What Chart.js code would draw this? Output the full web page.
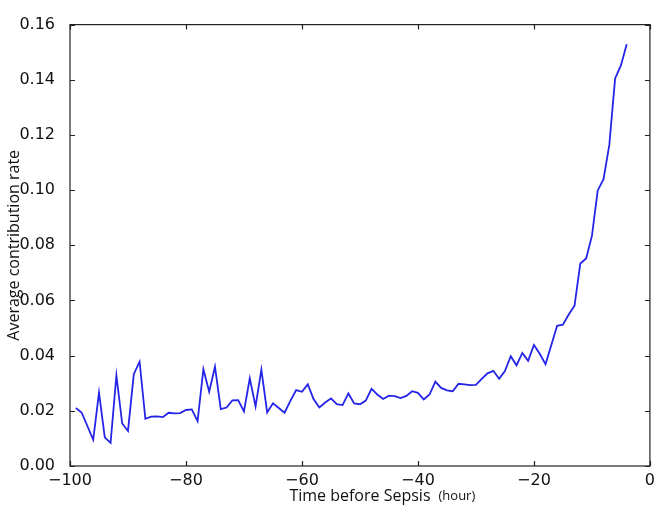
<!DOCTYPE html>
<html>
<head>
<meta charset="utf-8">
<script src="https://cdn.jsdelivr.net/npm/chart.js@4"></script>
<style>
	body { margin: 0; background: #fff; }
</style>
</head>
<body>
<canvas id="cntx_rate" width="660" height="514"></canvas>
<script>
const hours = [
	-99, -98, -97, -96, -95, -94, -93, -92, -91, -90,
	-89, -88, -87, -86, -85, -84, -83, -82, -81, -80,
	-79, -78, -77, -76, -75, -74, -73, -72, -71, -70,
	-69, -68, -67, -66, -65, -64, -63, -62, -61, -60,
	-59, -58, -57, -56, -55, -54, -53, -52, -51, -50,
	-49, -48, -47, -46, -45, -44, -43, -42, -41, -40,
	-39, -38, -37, -36, -35, -34, -33, -32, -31, -30,
	-29, -28, -27, -26, -25, -24, -23, -22, -21, -20,
	-19, -18, -17, -16, -15, -14, -13, -12, -11, -10,
	-9, -8, -7, -6, -5, -4,
];
const contribution_rate = [
	0.0210, 0.0194, 0.0145, 0.0095, 0.0266, 0.0104, 0.0084, 0.0328, 0.0154, 0.0127,
	0.0333, 0.0378, 0.0171, 0.0179, 0.0180, 0.0177, 0.0193, 0.0191, 0.0192, 0.0203,
	0.0205, 0.0163, 0.0351, 0.0269, 0.0360, 0.0206, 0.0212, 0.0238, 0.0239, 0.0198,
	0.0318, 0.0216, 0.0349, 0.0194, 0.0227, 0.0210, 0.0193, 0.0236, 0.0275, 0.0269,
	0.0296, 0.0243, 0.0212, 0.0230, 0.0245, 0.0224, 0.0221, 0.0263, 0.0227, 0.0224,
	0.0237, 0.0280, 0.0259, 0.0243, 0.0255, 0.0253, 0.0246, 0.0254, 0.0271, 0.0265,
	0.0241, 0.0259, 0.0306, 0.0283, 0.0274, 0.0271, 0.0298, 0.0296, 0.0293, 0.0294,
	0.0316, 0.0336, 0.0345, 0.0316, 0.0344, 0.0398, 0.0365, 0.0410, 0.0381, 0.0439,
	0.0407, 0.0369, 0.0439, 0.0508, 0.0512, 0.0549, 0.0581, 0.0734, 0.0752, 0.0834,
	0.0999, 0.1040, 0.1164, 0.1405, 0.1452, 0.1529,
];
const x_ticks = [-100, -80, -60, -40, -20, 0];
const y_ticks = [0.00, 0.02, 0.04, 0.06, 0.08, 0.10, 0.12, 0.14, 0.16];

const y_title = "Average contribution rate";
const x_title = "Time before Sepsis";
const x_unit = "(hour)";

const tickFont = { family: "DejaVu Sans", size: 16 };
const titleFamily = "'Open Sans', sans-serif";

// box round the plot, inward ticks on all four sides, x title with unit
const frame = {
	id: "frame",
	afterDraw: (chart) => {
		const ctx = chart.ctx;
		const a = chart.chartArea;
		const x = chart.scales.x;
		const y = chart.scales.y;
		ctx.save();
		ctx.strokeStyle = "#222";
		ctx.lineWidth = 1.2;
		ctx.strokeRect(a.left, a.top, a.right - a.left, a.bottom - a.top);
		ctx.beginPath();
		x_ticks.forEach((t) => {
			const px = Math.round(x.getPixelForValue(t)) + 0.5;
			ctx.moveTo(px, a.bottom);
			ctx.lineTo(px, a.bottom - 5);
			ctx.moveTo(px, a.top);
			ctx.lineTo(px, a.top + 5);
		});
		y_ticks.forEach((t) => {
			const py = Math.round(y.getPixelForValue(t)) + 0.5;
			ctx.moveTo(a.left, py);
			ctx.lineTo(a.left + 5, py);
			ctx.moveTo(a.right, py);
			ctx.lineTo(a.right - 5, py);
		});
		ctx.stroke();

		ctx.fillStyle = "#111";
		ctx.textBaseline = "alphabetic";
		ctx.font = "16px " + titleFamily;
		const cx = (a.left + a.right) / 2;
		const w = ctx.measureText(x_title).width;
		ctx.textAlign = "center";
		ctx.fillText(x_title, cx, 501);
		ctx.font = "13px " + titleFamily;
		ctx.textAlign = "left";
		ctx.fillText(x_unit, cx + w / 2 + 8, 500);
		ctx.restore();
	},
};

drawChart = (canvas) => {
	const myChart = new Chart(canvas, {
		type: "line",
		data: {
			datasets: [
				{
					label: y_title,
					data: hours.map((h, i) => ({ x: h, y: contribution_rate[i] })),
					borderColor: "#2424e8",
					borderWidth: 1.8,
					pointRadius: 0,
					tension: 0,
					fill: false,
				},
			],
		},
		options: {
			responsive: false,
			animation: false,
			layout: { padding: { top: 14, right: 8, left: 0, bottom: 0 } },
			plugins: {
				legend: { display: false },
				tooltip: { enabled: false },
			},
			scales: {
				x: {
					type: "linear",
					min: -100,
					max: 0,
					afterBuildTicks: (s) => {
						s.ticks = x_ticks.map((v) => ({ value: v }));
					},
					afterFit: (s) => {
						s.height = 48;
					},
					grid: { display: false, drawTicks: false },
					border: { display: false },
					ticks: {
						font: tickFont,
						color: "#111",
						padding: 5,
						maxRotation: 0,
						callback: (v) => String(v).replace("-", "\u2212"),
					},
				},
				y: {
					min: 0,
					max: 0.16,
					afterBuildTicks: (s) => {
						s.ticks = y_ticks.map((v) => ({ value: v }));
					},
					afterFit: (s) => {
						s.width = 70;
					},
					grid: { display: false, drawTicks: false },
					border: { display: false },
					title: {
						display: true,
						text: y_title,
						font: { family: titleFamily, size: 16 },
						color: "#111",
						padding: { top: 5, bottom: 0 },
					},
					ticks: {
						font: tickFont,
						color: "#111",
						padding: 15,
						callback: (v) => v.toFixed(2),
					},
				},
			},
		},
		plugins: [frame],
	});
};
drawChart(document.querySelector("#cntx_rate"));
</script>
</body>
</html>
